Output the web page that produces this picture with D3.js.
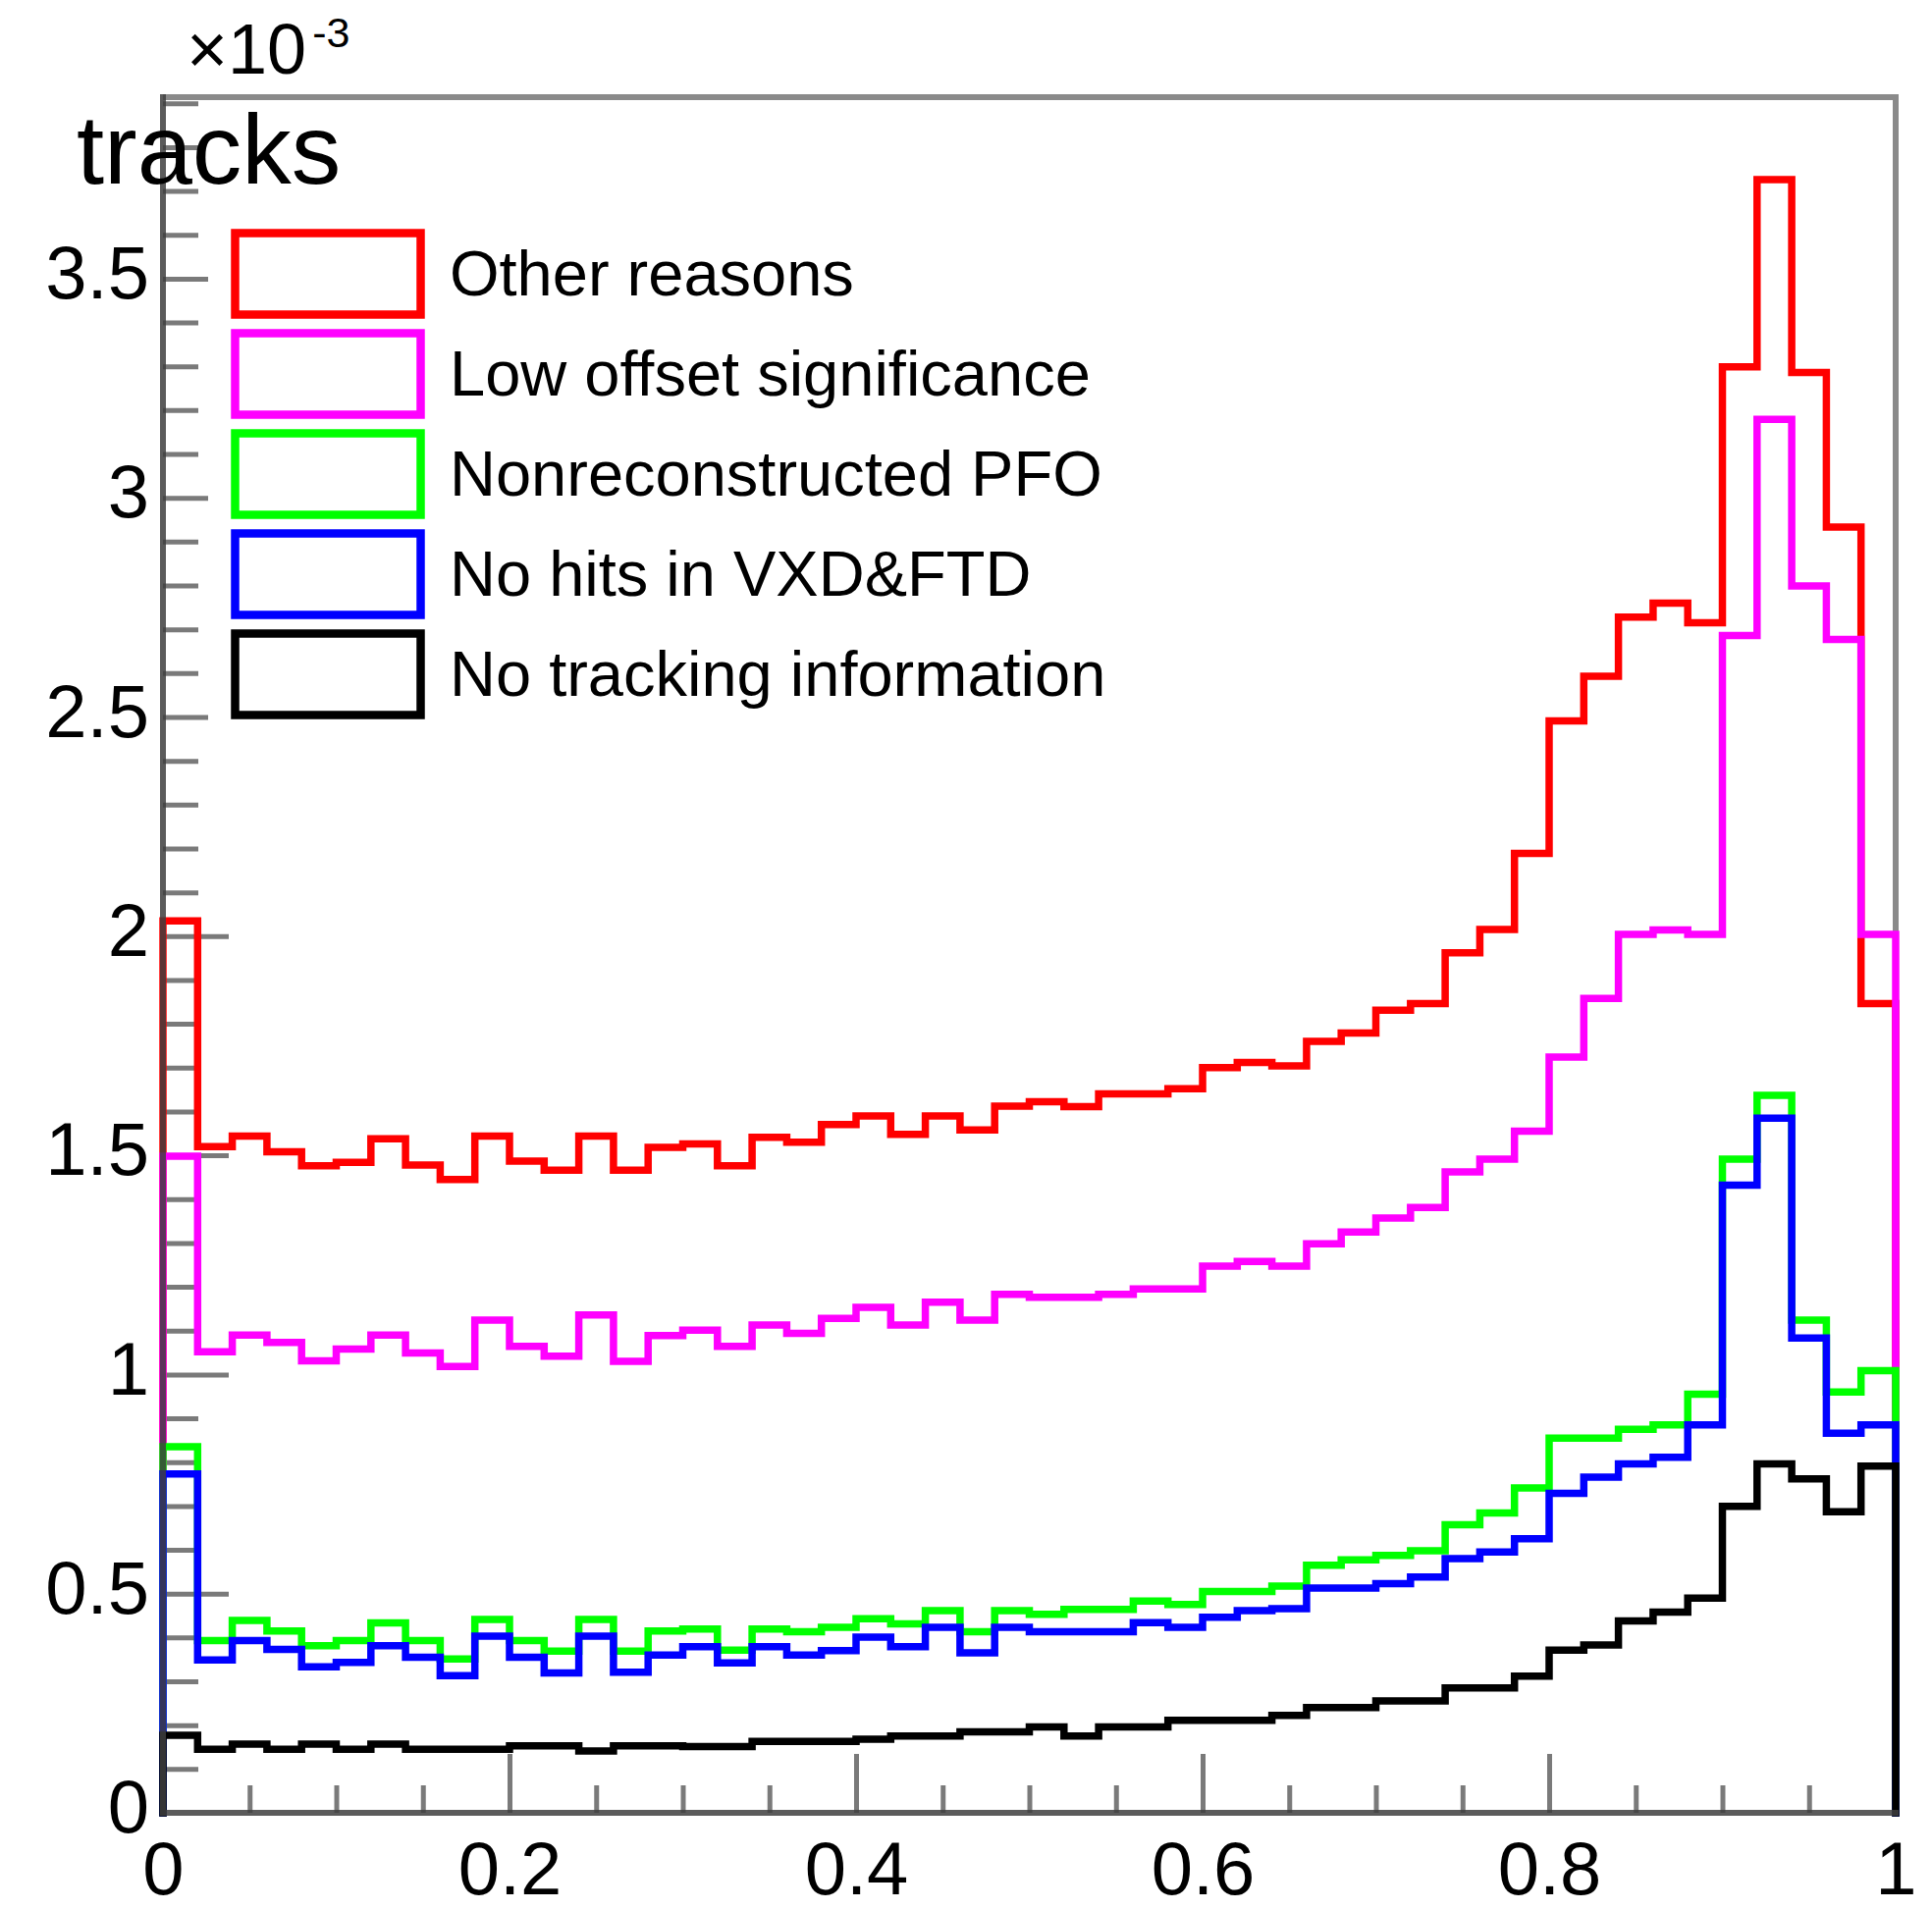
<!DOCTYPE html>
<html>
<head>
<meta charset="utf-8">
<script src="https://cdn.jsdelivr.net/npm/d3@7"></script>
<style>
  html, body { margin: 0; padding: 0; background: #fff; }
  svg { display: block; font-family: "Liberation Sans", Arial, Helvetica, sans-serif; }
</style>
</head>
<body>
<svg id="chart" width="1968" height="1945"></svg>
<script>
// 50 equal bins on [0, 1]; contents in units of 1e-3 tracks
const binEdges = d3.range(0, 51).map(i => i / 50);

const otherReasons = [
  2.035, 1.520, 1.544, 1.508, 1.476, 1.484, 1.538, 1.478, 1.445, 1.544,
  1.487, 1.466, 1.544, 1.466, 1.518, 1.526, 1.476, 1.541, 1.530, 1.570,
  1.590, 1.548, 1.590, 1.558, 1.612, 1.622, 1.611, 1.640, 1.640, 1.652,
  1.700, 1.712, 1.704, 1.760, 1.779, 1.831, 1.846, 1.962, 2.015, 2.189,
  2.491, 2.593, 2.728, 2.760, 2.715, 3.299, 3.726, 3.286, 2.933, 1.846
];
const lowOffsetSignificance = [
  1.498, 1.052, 1.090, 1.073, 1.031, 1.058, 1.090, 1.049, 1.018, 1.124,
  1.064, 1.042, 1.136, 1.030, 1.089, 1.101, 1.064, 1.113, 1.094, 1.128,
  1.153, 1.113, 1.165, 1.124, 1.183, 1.176, 1.176, 1.183, 1.195, 1.195,
  1.247, 1.258, 1.247, 1.298, 1.325, 1.357, 1.381, 1.462, 1.491, 1.555,
  1.724, 1.858, 2.004, 2.014, 2.004, 2.686, 3.179, 2.799, 2.677, 2.004
];
const nonreconstructedPFO = [
  0.835, 0.393, 0.439, 0.415, 0.381, 0.393, 0.433, 0.393, 0.351, 0.441,
  0.393, 0.369, 0.441, 0.369, 0.415, 0.419, 0.371, 0.419, 0.413, 0.423,
  0.443, 0.431, 0.461, 0.413, 0.461, 0.453, 0.464, 0.464, 0.483, 0.475,
  0.505, 0.505, 0.517, 0.565, 0.577, 0.587, 0.598, 0.657, 0.684, 0.741,
  0.855, 0.855, 0.875, 0.885, 0.955, 1.491, 1.637, 1.124, 0.960, 1.009
];
const noHitsVXDFTD = [
  0.773, 0.349, 0.393, 0.373, 0.333, 0.343, 0.381, 0.355, 0.313, 0.403,
  0.355, 0.319, 0.403, 0.321, 0.360, 0.379, 0.342, 0.379, 0.360, 0.370,
  0.401, 0.379, 0.423, 0.365, 0.423, 0.413, 0.413, 0.413, 0.434, 0.423,
  0.446, 0.461, 0.466, 0.513, 0.513, 0.523, 0.538, 0.580, 0.595, 0.625,
  0.729, 0.766, 0.796, 0.811, 0.885, 1.432, 1.585, 1.083, 0.866, 0.885
];
const noTrackingInfo = [
  0.177, 0.145, 0.157, 0.145, 0.157, 0.145, 0.157, 0.145, 0.145, 0.145,
  0.153, 0.153, 0.141, 0.153, 0.153, 0.151, 0.151, 0.163, 0.163, 0.163,
  0.168, 0.175, 0.175, 0.185, 0.185, 0.196, 0.175, 0.196, 0.196, 0.211,
  0.211, 0.211, 0.222, 0.240, 0.240, 0.255, 0.255, 0.285, 0.285, 0.312,
  0.371, 0.383, 0.438, 0.458, 0.490, 0.699, 0.796, 0.762, 0.687, 0.791
];

const seriesNames  = ["Other reasons", "Low offset significance", "Nonreconstructed PFO", "No hits in VXD&FTD", "No tracking information"];
const seriesValues = [otherReasons, lowOffsetSignificance, nonreconstructedPFO, noHitsVXDFTD, noTrackingInfo];
const seriesColors = ["#ff0000", "#ff00ff", "#00ff00", "#0000ff", "#000000"];

const yMajorTicks = [0, 0.5, 1, 1.5, 2, 2.5, 3, 3.5];
const yTickLabels = ["0", "0.5", "1", "1.5", "2", "2.5", "3", "3.5"];
const xMajorTicks = [0, 0.2, 0.4, 0.6, 0.8, 1];
const xTickLabels = ["0", "0.2", "0.4", "0.6", "0.8", "1"];
const yAxisTitle = "tracks";
const yExponent = "-3";

// frame geometry
const frame = { left: 166, right: 1931, top: 99, bottom: 1847 };
const yMax = 3.914;

const svg = d3.select("#chart");
const x = d3.scaleLinear().domain([0, 1]).range([frame.left, frame.right]);
const y = d3.scaleLinear().domain([0, yMax]).range([frame.bottom, frame.top]);

const axisGrey = "#3e3e3e";
const frameGrey = "#8a8a8a";
const tickGrey = "#7a7a7a";
const fontStack = "'Liberation Sans', Arial, Helvetica, sans-serif";

// frame (top and right)
svg.append("path")
  .attr("d", `M${frame.left},${frame.top} H${frame.right} V${frame.bottom}`)
  .attr("fill", "none").attr("stroke", frameGrey).attr("stroke-width", 6);

// y axis ticks: minor every 0.1, majors with their own lengths
const yAxisG = svg.append("g").attr("transform", `translate(${frame.left},0)`);
const styleTicks = g => {
  g.select(".domain").remove();
  g.selectAll("line").attr("stroke", tickGrey).attr("stroke-width", 5);
};
const yMinor = d3.range(0, 40).map(i => i / 10)
  .filter(v => v <= yMax && Math.abs(v * 2 - Math.round(v * 2)) > 1e-6);
yAxisG.append("g").call(d3.axisRight(y).tickValues(yMinor).tickSize(36).tickFormat("")).call(styleTicks);
yAxisG.append("g").call(d3.axisRight(y).tickValues(yMajorTicks.filter(v => v > 0 && v <= 2)).tickSize(67).tickFormat("")).call(styleTicks);
yAxisG.append("g").call(d3.axisRight(y).tickValues(yMajorTicks.filter(v => v > 2)).tickSize(46).tickFormat("")).call(styleTicks);

// x axis ticks: minor every 0.05
const xAxisG = svg.append("g").attr("transform", `translate(0,${frame.bottom})`);
const xMinor = d3.range(0, 21).map(i => i / 20)
  .filter(v => Math.abs(v * 5 - Math.round(v * 5)) > 1e-6);
xAxisG.append("g").call(d3.axisTop(x).tickValues(xMinor).tickSize(28).tickFormat("")).call(styleTicks);
xAxisG.append("g").call(d3.axisTop(x).tickValues(xMajorTicks.filter(v => v > 0 && v < 1)).tickSize(60).tickFormat("")).call(styleTicks);

// histograms: closed step outlines from 0 at both ends
const stepLine = d3.line().x(d => x(d[0])).y(d => y(d[1])).curve(d3.curveStepAfter);
const histGroup = svg.append("g");
seriesValues.forEach((vals, i) => {
  const pts = [[0, 0]];
  vals.forEach((v, k) => pts.push([binEdges[k], v]));
  pts.push([1, vals[vals.length - 1]]);
  pts.push([1, 0]);
  histGroup.append("path")
    .attr("d", stepLine(pts))
    .attr("fill", "none")
    .attr("stroke", seriesColors[i])
    .attr("stroke-width", 7.5)
    .attr("stroke-linejoin", "miter")
    .attr("stroke-linecap", "square");
});

// axis lines
svg.append("path")
  .attr("d", `M${frame.left},${frame.top} V${frame.bottom} H${frame.right}`)
  .attr("fill", "none").attr("stroke", axisGrey).attr("stroke-width", 6)
  .attr("stroke-linecap", "square").attr("stroke-opacity", 0.85);

// tick labels
yAxisG.append("g").call(
  d3.axisLeft(y).tickValues(yMajorTicks).tickSize(0).tickPadding(14)
    .tickFormat((d, i) => yTickLabels[i])
).call(g => g.select(".domain").remove())
 .call(g => g.selectAll("text").attr("font-size", 76).attr("fill", "#000")
   .attr("dy", "0.26em").attr("font-family", fontStack));
xAxisG.append("g").call(
  d3.axisBottom(x).tickValues(xMajorTicks).tickSize(0).tickPadding(29)
    .tickFormat((d, i) => xTickLabels[i])
).call(g => g.select(".domain").remove())
 .call(g => g.selectAll("text").attr("font-size", 76).attr("fill", "#000")
   .attr("font-family", fontStack));

// exponent label
const expo = svg.append("text").attr("x", 190).attr("y", 75)
  .attr("font-size", 72).attr("fill", "#000");
expo.append("tspan").text("×10");
expo.append("tspan").attr("font-size", 43).attr("dx", 6).attr("dy", -27).text(yExponent);

// axis title
svg.append("text").attr("x", 78).attr("y", 187)
  .attr("font-size", 101).attr("fill", "#000").text(yAxisTitle);

// legend
const legend = svg.append("g");
seriesNames.forEach((name, i) => {
  const top = 237.5 + i * 102;
  legend.append("rect")
    .attr("x", 239.5).attr("y", top)
    .attr("width", 189).attr("height", 83)
    .attr("fill", "none").attr("stroke", seriesColors[i]).attr("stroke-width", 8.5);
  legend.append("text")
    .attr("x", 458).attr("y", top + 41)
    .attr("dominant-baseline", "central")
    .attr("font-size", 65).attr("fill", "#000").text(name);
});
</script>
</body>
</html>
